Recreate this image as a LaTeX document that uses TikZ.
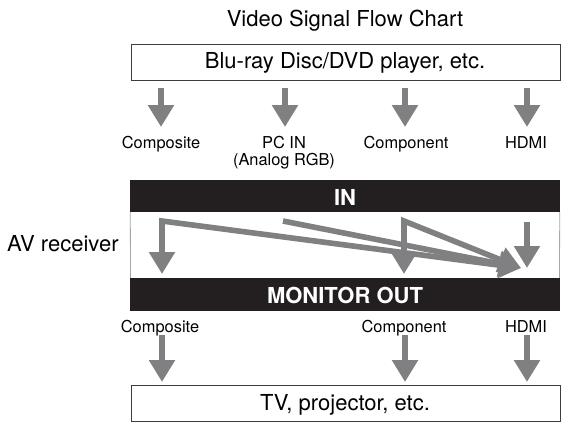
\documentclass[tikz,border=0pt]{standalone}
\usepackage{fontspec}
\setmainfont{TeX Gyre Heros}
\usetikzlibrary{arrows.meta}
\definecolor{arrgray}{RGB}{128,128,130}
\definecolor{barblack}{RGB}{35,31,32}
\definecolor{boxline}{RGB}{60,60,60}
\begin{document}
\begin{tikzpicture}[x=1pt,y=-1pt,
  sig/.style={draw=arrgray, line width=5.6pt, -{Triangle[width=25pt,length=22pt]}},
  sigtwo/.style={draw=arrgray, line width=5.6pt, line join=miter,
    {Triangle[width=25pt,length=22pt]}-{Triangle[width=25pt,length=22pt]}},
  lbl/.style={font=\fontsize{16.4}{19}\selectfont, inner sep=0pt, anchor=base},
  bigtxt/.style={font=\fontsize{22}{26}\selectfont, inner sep=0pt, anchor=base},
  bartxt/.style={font=\fontsize{22}{26}\selectfont\bfseries, text=white, inner sep=0pt, anchor=base},
  devbox/.style={draw=boxline, line width=1pt, minimum width=429pt, minimum height=36pt, inner sep=0pt},
  barbox/.style={fill=barblack, minimum width=430pt, inner sep=0pt},
]
\useasboundingbox (0,0) rectangle (562,423);
\fill[white] (0,0) rectangle (562,423);

% title
\node[bigtxt] (title) at (345,26) {Video Signal Flow Chart};

% source box
\node[devbox] (src) at (345.5,62) {};
\node[bigtxt] (srctxt) at (345,68) {Blu-ray Disc/DVD player, etc.};

% top arrows
\coordinate (t1s) at (161,88);  \coordinate (t1e) at (161,127);
\coordinate (t2s) at (285,88);  \coordinate (t2e) at (285,127);
\coordinate (t3s) at (405,88);  \coordinate (t3e) at (405,127);
\coordinate (t4s) at (527,88);  \coordinate (t4e) at (527,127);
\draw[sig] (t1s) -- (t1e);
\draw[sig] (t2s) -- (t2e);
\draw[sig] (t3s) -- (t3e);
\draw[sig] (t4s) -- (t4e);

% input labels
\node[lbl] (inComp) at (161,148) {Composite};
\node[lbl] (inPC) at (284,148) {PC IN};
\node[lbl] (inPCb) at (284,165) {(Analog RGB)};
\node[lbl] (inCpt) at (406,148) {Component};
\node[lbl] (inHD) at (526,148) {HDMI};

% receiver
\node[barbox, minimum height=32pt] (inbar) at (345,196) {};
\node[bartxt] (intxt) at (345,205) {IN};
\node[barbox, minimum height=33pt] (outbar) at (345,294.5) {};
\node[bartxt] (outtxt) at (345,303) {MONITOR OUT};
\draw[arrgray!70, line width=0.8pt] (inbar.south west) ++(0.5,0) -- (outbar.north west -| 130.5,0);
\draw[arrgray!70, line width=0.8pt] (inbar.south east) ++(-0.5,0) -- (outbar.north east -| 559.5,0);
\node[bigtxt, anchor=base west] (avr) at (7,251) {AV receiver};

% internal routing
\coordinate (c1) at (162,221);  \coordinate (c1d) at (162,274);
\coordinate (p1) at (283,221);
\coordinate (c3) at (404,221);  \coordinate (c3d) at (404,274);
\coordinate (h1) at (527,222);  \coordinate (h1d) at (527,268);
\coordinate (hub) at (521,268);
\draw[sigtwo] (hub) -- (c1) -- (c1d);
\draw[sig] (p1) -- (hub);
\draw[sigtwo] (hub) -- (c3) -- (c3d);
\draw[sig] (h1) -- (h1d);

% output labels
\node[lbl] (outComp) at (160,332) {Composite};
\node[lbl] (outCpt) at (404,332) {Component};
\node[lbl] (outHD) at (526,332) {HDMI};

% bottom arrows
\coordinate (b1s) at (162,335);  \coordinate (b1e) at (162,382);
\coordinate (b2s) at (405,335);  \coordinate (b2e) at (405,382);
\coordinate (b3s) at (527,335);  \coordinate (b3e) at (527,382);
\draw[sig] (b1s) -- (b1e);
\draw[sig] (b2s) -- (b2e);
\draw[sig] (b3s) -- (b3e);

% destination box
\node[devbox] (tv) at (345.5,403) {};
\node[bigtxt] (tvtxt) at (345,410) {TV, projector, etc.};
\end{tikzpicture}
\end{document}
